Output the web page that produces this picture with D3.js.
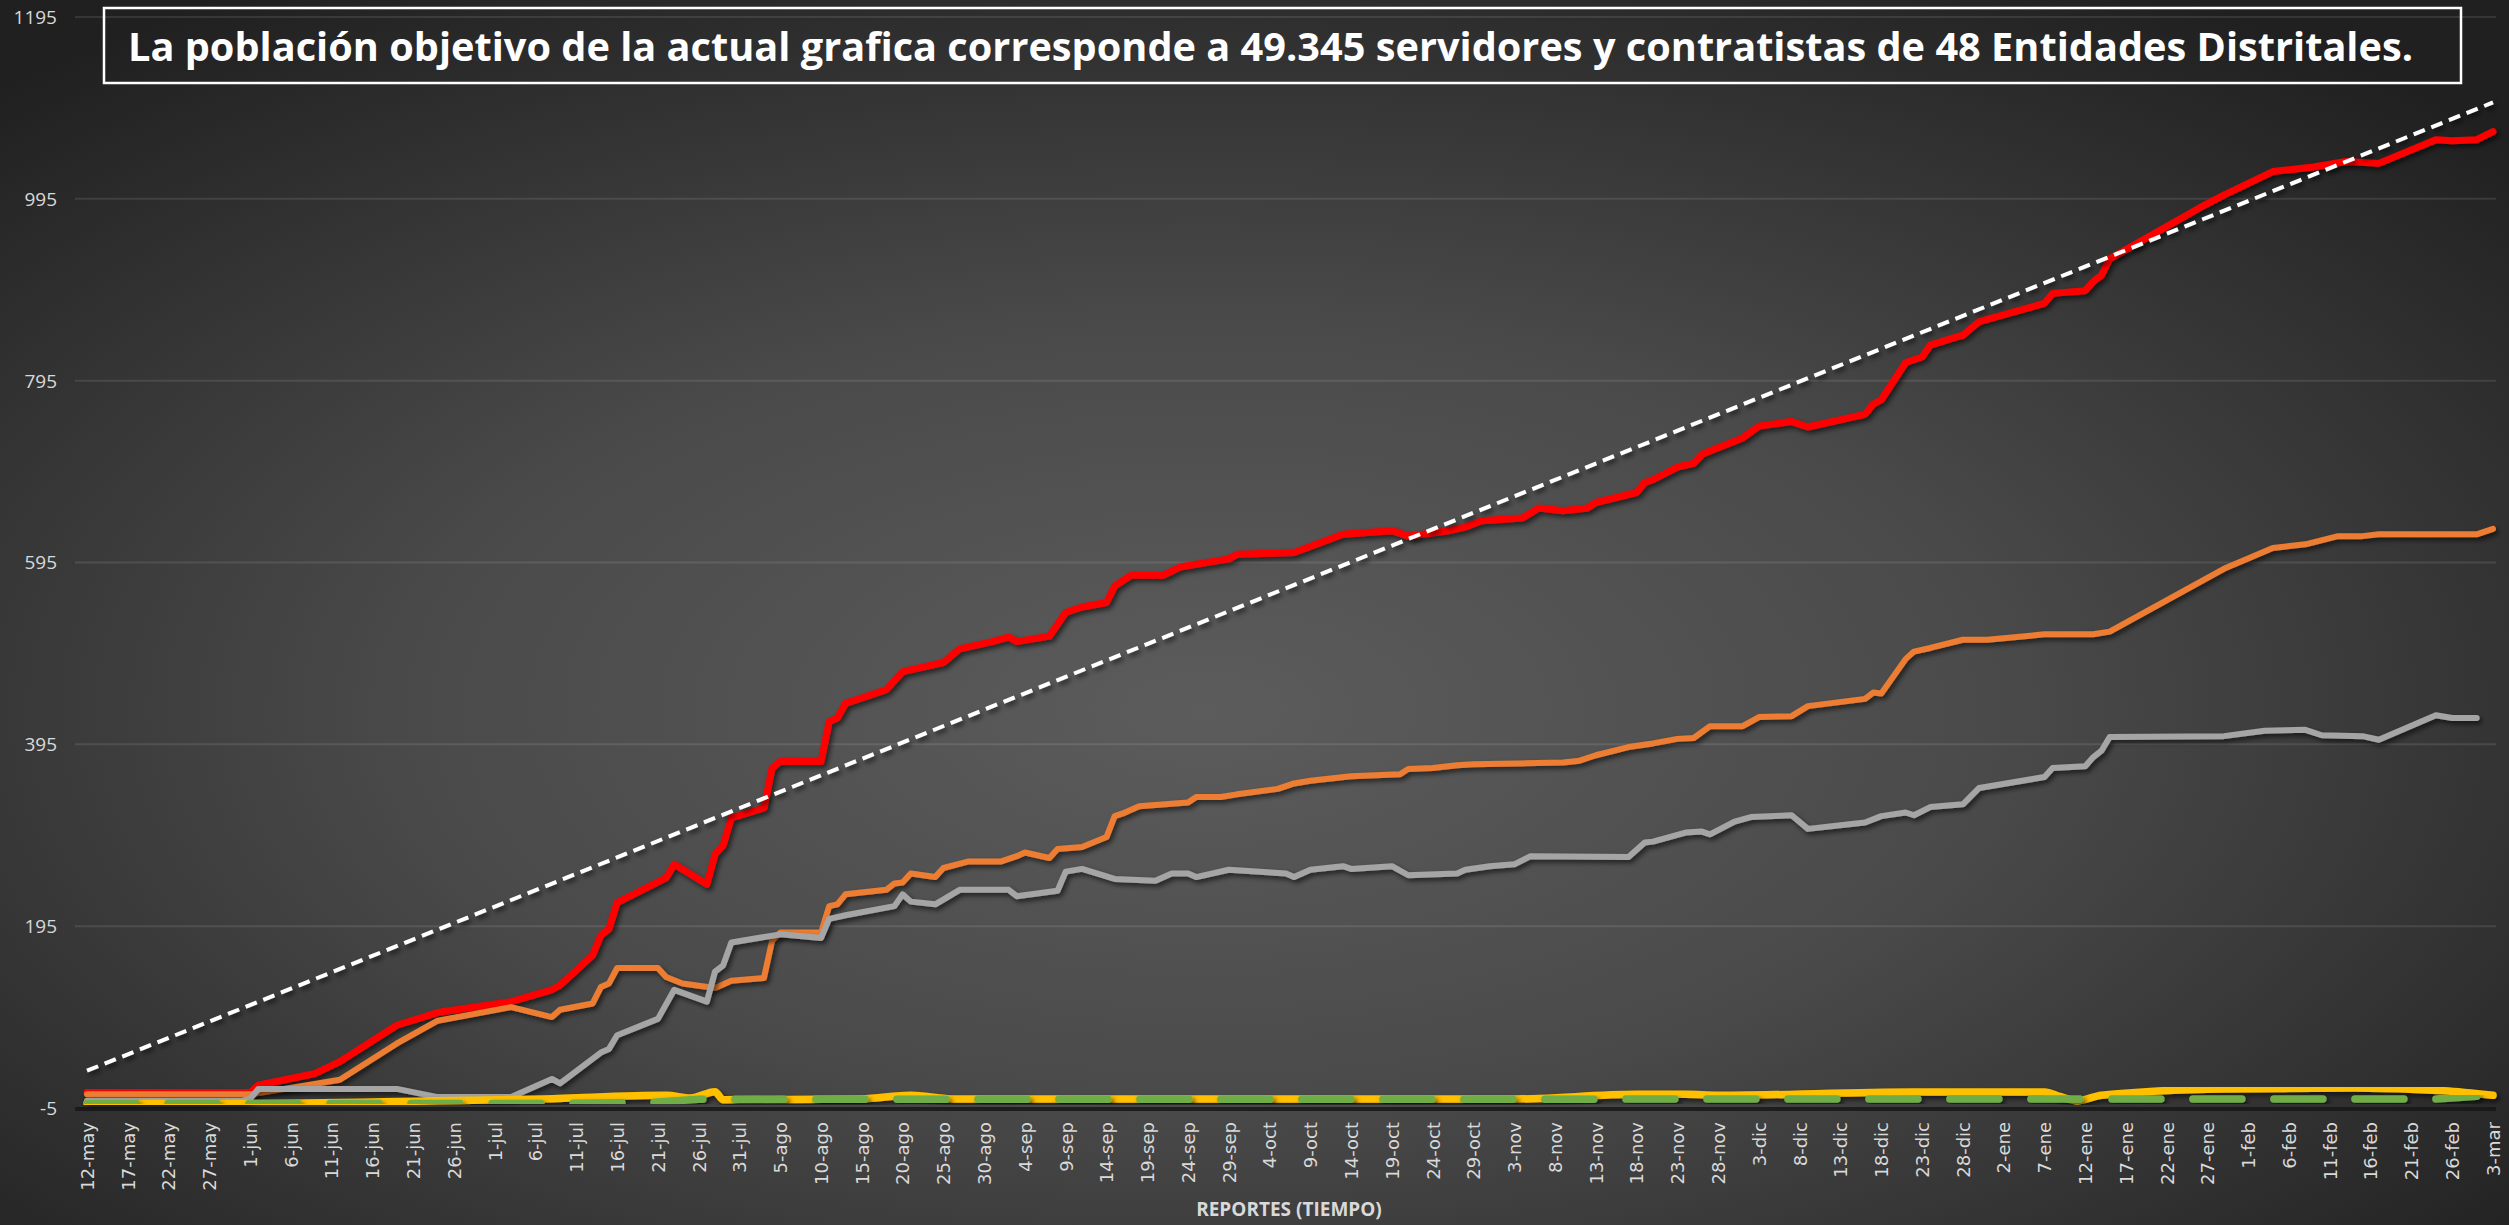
<!DOCTYPE html>
<html>
<head>
<meta charset="utf-8">
<script src="https://cdn.jsdelivr.net/npm/d3@7"></script>
<style>
  html, body { margin: 0; padding: 0; background: #2a2a2a; overflow: hidden; }
</style>
</head>
<body>
<div></div>
<script>
const width = 2509;
const height = 1225;

// datos (fecha, valor)
const meses = ["ene", "feb", "mar", "abr", "may", "jun", "jul", "ago", "sep", "oct", "nov", "dic"];
const yTicks = [-5, 195, 395, 595, 795, 995, 1195];
const titulo = "La población objetivo de la actual grafica corresponde a 49.345 servidores y contratistas de 48 Entidades Distritales.";

const rojo = [
  ["2020-05-12", 12], ["2020-06-01", 12], ["2020-06-02", 20], ["2020-06-09", 33], ["2020-06-12", 46],
  ["2020-06-19", 86], ["2020-06-24", 100], ["2020-07-03", 112], ["2020-07-08", 125], ["2020-07-09", 130],
  ["2020-07-13", 163], ["2020-07-14", 185], ["2020-07-15", 192], ["2020-07-16", 221], ["2020-07-22", 248],
  ["2020-07-23", 263], ["2020-07-27", 241], ["2020-07-28", 274], ["2020-07-29", 284], ["2020-07-30", 314],
  ["2020-08-03", 325], ["2020-08-04", 369], ["2020-08-05", 376], ["2020-08-10", 376], ["2020-08-11", 420],
  ["2020-08-12", 424], ["2020-08-13", 440], ["2020-08-18", 455], ["2020-08-20", 475], ["2020-08-25", 485],
  ["2020-08-27", 500], ["2020-08-31", 508], ["2020-09-02", 513], ["2020-09-03", 508], ["2020-09-07", 514],
  ["2020-09-09", 540], ["2020-09-11", 546], ["2020-09-14", 551], ["2020-09-15", 569], ["2020-09-17", 581],
  ["2020-09-21", 581], ["2020-09-23", 590], ["2020-09-29", 599], ["2020-09-30", 604], ["2020-10-07", 606],
  ["2020-10-13", 626], ["2020-10-19", 630], ["2020-10-21", 624], ["2020-10-26", 630], ["2020-10-28", 634],
  ["2020-10-30", 641], ["2020-11-04", 644], ["2020-11-06", 655], ["2020-11-09", 652], ["2020-11-12", 655],
  ["2020-11-13", 661], ["2020-11-18", 672], ["2020-11-19", 683], ["2020-11-20", 686], ["2020-11-23", 700],
  ["2020-11-25", 704], ["2020-11-26", 714], ["2020-12-01", 732], ["2020-12-03", 745], ["2020-12-07", 750],
  ["2020-12-09", 744], ["2020-12-16", 758], ["2020-12-17", 769], ["2020-12-18", 774], ["2020-12-21", 815],
  ["2020-12-23", 821], ["2020-12-24", 834], ["2020-12-28", 845], ["2020-12-30", 860], ["2021-01-07", 880],
  ["2021-01-08", 891], ["2021-01-12", 894], ["2021-01-13", 904], ["2021-01-14", 911], ["2021-01-15", 929],
  ["2021-01-26", 985], ["2021-01-29", 999], ["2021-02-04", 1025], ["2021-02-09", 1030], ["2021-02-13", 1036],
  ["2021-02-17", 1034], ["2021-02-24", 1060], ["2021-02-26", 1059], ["2021-03-01", 1060], ["2021-03-03", 1069]
];

const naranja = [
  ["2020-05-12", 10], ["2020-06-01", 10], ["2020-06-08", 20], ["2020-06-12", 26], ["2020-06-19", 66],
  ["2020-06-24", 91], ["2020-07-03", 106], ["2020-07-08", 95], ["2020-07-09", 103], ["2020-07-13", 110],
  ["2020-07-14", 128], ["2020-07-15", 132], ["2020-07-16", 149], ["2020-07-21", 149], ["2020-07-22", 139],
  ["2020-07-24", 132], ["2020-07-28", 127], ["2020-07-30", 135], ["2020-08-03", 138], ["2020-08-04", 179],
  ["2020-08-05", 188], ["2020-08-10", 188], ["2020-08-11", 217], ["2020-08-12", 219], ["2020-08-13", 230],
  ["2020-08-18", 235], ["2020-08-19", 242], ["2020-08-20", 243], ["2020-08-21", 253], ["2020-08-24", 249],
  ["2020-08-25", 259], ["2020-08-28", 266], ["2020-09-01", 266], ["2020-09-03", 272], ["2020-09-04", 276],
  ["2020-09-07", 270], ["2020-09-08", 280], ["2020-09-11", 282], ["2020-09-14", 293], ["2020-09-15", 316],
  ["2020-09-16", 319], ["2020-09-18", 327], ["2020-09-24", 331], ["2020-09-25", 337], ["2020-09-28", 337],
  ["2020-09-30", 340], ["2020-10-05", 346], ["2020-10-07", 352], ["2020-10-09", 355], ["2020-10-14", 360],
  ["2020-10-20", 362], ["2020-10-21", 368], ["2020-10-24", 369], ["2020-10-27", 372], ["2020-10-29", 373],
  ["2020-11-09", 375], ["2020-11-11", 377], ["2020-11-13", 383], ["2020-11-17", 392], ["2020-11-20", 396],
  ["2020-11-23", 401], ["2020-11-25", 402], ["2020-11-27", 415], ["2020-12-01", 415], ["2020-12-03", 425],
  ["2020-12-07", 426], ["2020-12-09", 437], ["2020-12-16", 445], ["2020-12-17", 452], ["2020-12-18", 451],
  ["2020-12-21", 489], ["2020-12-22", 497], ["2020-12-24", 501], ["2020-12-28", 510], ["2020-12-31", 510],
  ["2021-01-07", 516], ["2021-01-13", 516], ["2021-01-15", 519], ["2021-01-29", 588], ["2021-02-04", 611],
  ["2021-02-08", 615], ["2021-02-12", 624], ["2021-02-15", 624], ["2021-02-17", 626], ["2021-03-01", 626],
  ["2021-03-03", 632]
];

const gris = [
  ["2020-05-12", 3], ["2020-05-31", 3], ["2020-06-01", 5], ["2020-06-02", 16], ["2020-06-19", 16],
  ["2020-06-24", 7], ["2020-07-03", 7], ["2020-07-08", 27], ["2020-07-09", 22], ["2020-07-14", 56],
  ["2020-07-15", 60], ["2020-07-16", 75], ["2020-07-21", 93], ["2020-07-23", 125], ["2020-07-27", 112],
  ["2020-07-28", 145], ["2020-07-29", 152], ["2020-07-30", 177], ["2020-08-05", 186], ["2020-08-10", 182],
  ["2020-08-11", 203], ["2020-08-13", 207], ["2020-08-19", 217], ["2020-08-20", 230], ["2020-08-21", 222],
  ["2020-08-24", 219], ["2020-08-27", 235], ["2020-09-02", 235], ["2020-09-03", 228], ["2020-09-08", 234],
  ["2020-09-09", 255], ["2020-09-11", 258], ["2020-09-15", 247], ["2020-09-20", 245], ["2020-09-22", 253],
  ["2020-09-24", 253], ["2020-09-25", 249], ["2020-09-29", 257], ["2020-10-06", 253], ["2020-10-07", 249],
  ["2020-10-09", 257], ["2020-10-13", 261], ["2020-10-14", 258], ["2020-10-19", 261], ["2020-10-21", 251],
  ["2020-10-27", 253], ["2020-10-28", 257], ["2020-10-31", 261], ["2020-11-03", 263], ["2020-11-05", 272],
  ["2020-11-17", 271], ["2020-11-18", 279], ["2020-11-19", 287], ["2020-11-20", 288], ["2020-11-24", 298],
  ["2020-11-26", 299], ["2020-11-27", 296], ["2020-11-30", 310], ["2020-12-02", 315], ["2020-12-07", 317],
  ["2020-12-09", 302], ["2020-12-16", 309], ["2020-12-18", 316], ["2020-12-21", 320], ["2020-12-22", 317],
  ["2020-12-24", 326], ["2020-12-28", 329], ["2020-12-30", 347], ["2021-01-07", 359], ["2021-01-08", 369],
  ["2021-01-12", 371], ["2021-01-13", 381], ["2021-01-14", 388], ["2021-01-15", 403], ["2021-01-29", 404],
  ["2021-02-03", 410], ["2021-02-08", 411], ["2021-02-10", 405], ["2021-02-15", 404], ["2021-02-17", 400],
  ["2021-02-24", 427], ["2021-02-26", 424], ["2021-03-01", 424]
];

const amarillo = [
  ["2020-05-12", 0], ["2020-06-01", 0], ["2020-06-24", 3], ["2020-07-07", 5], ["2020-07-22", 9],
  ["2020-07-25", 6], ["2020-07-28", 13], ["2020-07-29", 4], ["2020-08-15", 5], ["2020-08-21", 9],
  ["2020-08-26", 5], ["2020-11-03", 5], ["2020-11-18", 10], ["2020-11-24", 10], ["2020-11-28", 9],
  ["2020-12-22", 12.6], ["2021-01-07", 12.6], ["2021-01-09", 7.5], ["2021-01-11", 3], ["2021-01-14", 9],
  ["2021-01-29", 16], ["2021-02-14", 17], ["2021-02-25", 14], ["2021-03-03", 9]
];

const verde = [
  ["2020-05-12", 0], ["2020-07-06", 0], ["2020-07-20", 1], ["2020-07-26", 4.5], ["2021-02-24", 5],
  ["2021-03-01", 8]
];

const meta = [["2020-05-12", 36], ["2021-03-03", 1101]];

const parse = d3.timeParse("%Y-%m-%d");
const fmt = d => d.getDate() + "-" + meses[d.getMonth()];

const x = d3.scaleTime()
    .domain([parse("2020-05-12"), parse("2021-03-03")])
    .range([87, 2493]);

const y = d3.scaleLinear()
    .domain([-5, 1195])
    .range([1108, 17]);

const svg = d3.create("svg")
    .attr("width", width)
    .attr("height", height)
    .attr("viewBox", [0, 0, width, height]);

const defs = svg.append("defs");

const grad = defs.append("radialGradient")
    .attr("id", "fondo")
    .attr("cx", 0.48).attr("cy", 0.58).attr("r", 0.7);
grad.append("stop").attr("offset", "0%").attr("stop-color", "#5c5c5c");
grad.append("stop").attr("offset", "45%").attr("stop-color", "#4a4a4a");
grad.append("stop").attr("offset", "100%").attr("stop-color", "#202020");

const sombra = defs.append("filter")
    .attr("id", "sombra")
    .attr("x", "-5%").attr("y", "-5%").attr("width", "110%").attr("height", "110%");
sombra.append("feDropShadow")
    .attr("dx", 2.5).attr("dy", 3)
    .attr("stdDeviation", 2.5)
    .attr("flood-color", "#000")
    .attr("flood-opacity", 0.6);

svg.append("rect")
    .attr("width", width)
    .attr("height", height)
    .attr("fill", "url(#fondo)");

// lineas de cuadricula
svg.append("g")
  .selectAll("line")
  .data(yTicks.slice(1))
  .join("line")
    .attr("x1", 75).attr("x2", 2496)
    .attr("y1", d => y(d)).attr("y2", d => y(d))
    .attr("stroke", "#ffffff")
    .attr("stroke-opacity", 0.1)
    .attr("stroke-width", 2);

// eje horizontal
svg.append("line")
    .attr("x1", 75).attr("x2", 2496)
    .attr("y1", y(-5) + 1).attr("y2", y(-5) + 1)
    .attr("stroke", "#171717")
    .attr("stroke-opacity", 0.85)
    .attr("stroke-width", 4);

// etiquetas eje y
svg.append("g")
    .attr("font-family", "'Open Sans', 'Liberation Sans', sans-serif")
    .attr("font-size", 19)
    .attr("fill", "#d9d9d9")
    .attr("text-anchor", "end")
  .selectAll("text")
  .data(yTicks)
  .join("text")
    .attr("x", 57)
    .attr("y", d => y(d))
    .attr("dy", "0.36em")
    .text(d => d);

// etiquetas eje x
const xAxis = d3.axisBottom(x)
    .tickValues(d3.timeDay.range(parse("2020-05-12"), parse("2021-03-04"), 5))
    .tickFormat(fmt)
    .tickSize(0);

const gx = svg.append("g")
    .attr("transform", `translate(0,${y(-5) + 14})`)
    .call(xAxis);
gx.select(".domain").remove();
gx.selectAll("text")
    .attr("font-family", "'DejaVu Sans', sans-serif")
    .attr("font-size", 18)
    .attr("fill", "#d9d9d9")
    .attr("text-anchor", "end")
    .attr("transform", "rotate(-90)")
    .attr("x", 0)
    .attr("y", 0)
    .attr("dx", 0)
    .attr("dy", "0.35em");

svg.append("text")
    .attr("x", 1289)
    .attr("y", 1216)
    .attr("text-anchor", "middle")
    .attr("font-family", "'Open Sans', sans-serif")
    .attr("font-weight", "bold")
    .attr("font-size", 19)
    .attr("fill", "#d9d9d9")
    .text("REPORTES (TIEMPO)");

// series
const line = d3.line()
    .x(d => x(parse(d[0])))
    .y(d => y(d[1]));

const series = [
  {data: rojo, color: "#ff0000", w: 7},
  {data: naranja, color: "#ed7d31", w: 6},
  {data: gris, color: "#a5a5a5", w: 6},
  {data: amarillo, color: "#ffc000", w: 7.5, curve: d3.curveMonotoneX},
  {data: verde, color: "#70ad47", w: 7.5, dash: "49,32", cap: "round"},
  {data: meta, color: "#ffffff", w: 4, dash: "12,7", cap: "butt"}
];

svg.append("g")
    .attr("fill", "none")
    .attr("stroke-linejoin", "round")
  .selectAll("path")
  .data(series)
  .join("path")
    .attr("filter", "url(#sombra)")
    .attr("stroke", d => d.color)
    .attr("stroke-width", d => d.w)
    .attr("stroke-dasharray", d => d.dash || null)
    .attr("stroke-linecap", d => d.cap || "round")
    .attr("d", d => line.curve(d.curve || d3.curveLinear)(d.data));

// titulo en recuadro
svg.append("rect")
    .attr("x", 104).attr("y", 8)
    .attr("width", 2357).attr("height", 75)
    .attr("fill", "none")
    .attr("stroke", "#ffffff")
    .attr("stroke-width", 2.5);

const t = svg.append("text")
    .attr("x", 128)
    .attr("y", 61)
    .attr("font-family", "'Open Sans', sans-serif")
    .attr("font-weight", "bold")
    .attr("font-size", 40)
    .attr("fill", "#ffffff")
    .text(titulo);

d3.select("body>div").append(() => svg.node());

const tw = t.node().getComputedTextLength();
if (tw > 2285) {
  t.attr("textLength", 2285).attr("lengthAdjust", "spacingAndGlyphs");
}
</script>
</body>
</html>
